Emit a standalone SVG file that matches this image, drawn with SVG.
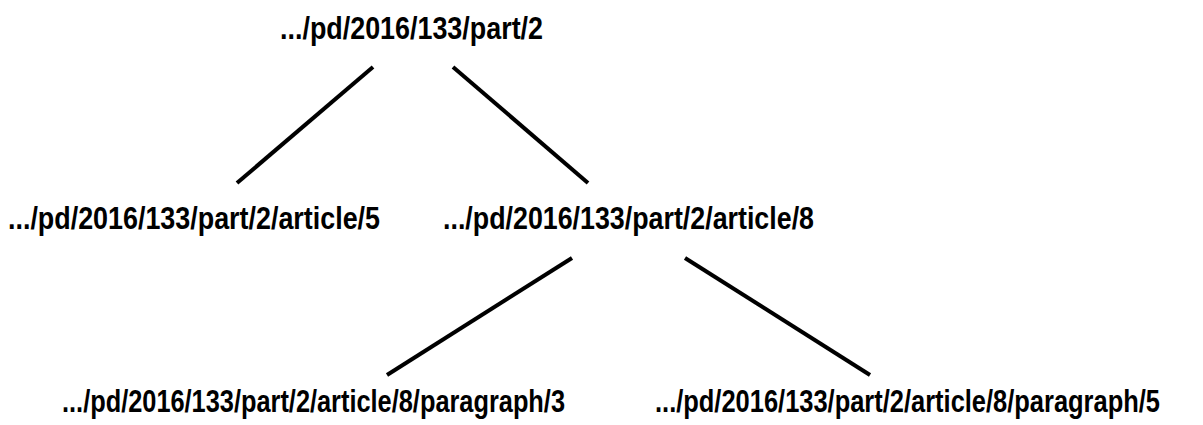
<svg xmlns="http://www.w3.org/2000/svg" width="1203" height="425" viewBox="0 0 1203 425">
  <style>
    .lbl { font-family: "Liberation Sans", Arial, sans-serif; font-weight: bold; font-size: 31px; fill: #000; }
    .edge { stroke: #000; stroke-width: 4; fill: none; }
  </style>
  <rect width="1203" height="425" fill="#fff"/>
  <g id="connectors">
    <line class="edge" x1="373" y1="67" x2="237" y2="183"/>
    <line class="edge" x1="453" y1="67" x2="588" y2="183"/>
    <line class="edge" x1="572" y1="258" x2="387" y2="375"/>
    <line class="edge" x1="685" y1="258" x2="870" y2="375"/>
  </g>
  <g id="node-part2">
    <text class="lbl" x="280" y="39" textLength="263" lengthAdjust="spacingAndGlyphs">.../pd/2016/133/part/2</text>
  </g>
  <g id="node-article5">
    <text class="lbl" x="8" y="229" textLength="372" lengthAdjust="spacingAndGlyphs">.../pd/2016/133/part/2/article/5</text>
  </g>
  <g id="node-article8">
    <text class="lbl" x="443" y="229" textLength="371" lengthAdjust="spacingAndGlyphs">.../pd/2016/133/part/2/article/8</text>
  </g>
  <!-- long leaf labels: narrowed horizontally, then fitted to their exact width -->
  <g id="node-paragraph3" transform="translate(62,412) scale(0.8,1)">
    <text class="lbl" x="0" y="0" textLength="628.75" lengthAdjust="spacingAndGlyphs">.../pd/2016/133/part/2/article/8/paragraph/3</text>
  </g>
  <g id="node-paragraph5" transform="translate(655,412) scale(0.8,1)">
    <text class="lbl" x="0" y="0" textLength="631.25" lengthAdjust="spacingAndGlyphs">.../pd/2016/133/part/2/article/8/paragraph/5</text>
  </g>
</svg>
